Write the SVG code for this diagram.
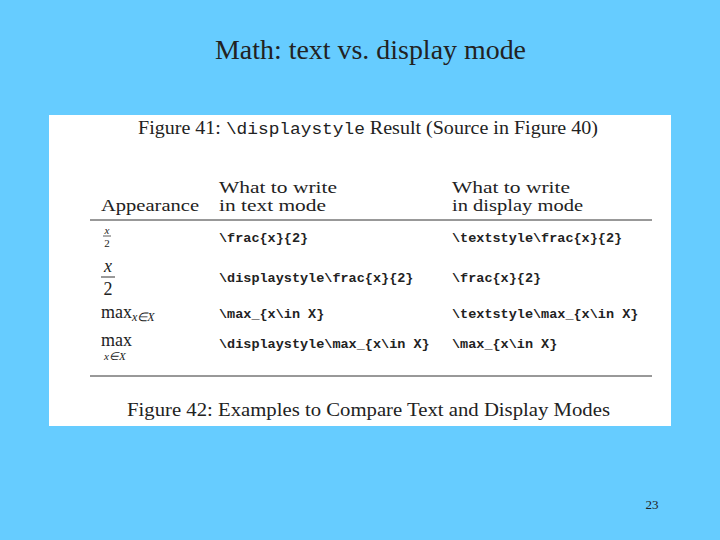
<svg xmlns="http://www.w3.org/2000/svg" width="720" height="540" viewBox="0 0 720 540">
<style>
.s{font-family:"Liberation Serif",serif;fill:#222}
.m{font-family:"Liberation Mono",monospace;font-size:13.5px;font-weight:bold;fill:#222}
.h{font-size:18px}
.k{font-size:16.5px}
</style>
<rect width="720" height="540" fill="#66ccff"/>
<text x="215" y="59" class="s" font-size="27" fill="#000" textLength="311" lengthAdjust="spacingAndGlyphs">Math: text vs. display mode</text>
<rect x="49" y="115" width="622" height="311" fill="#fff"/>
<text x="138" y="134" class="s h" textLength="460" lengthAdjust="spacingAndGlyphs">Figure 41: <tspan font-family="Liberation Mono,monospace" font-size="16">\displaystyle</tspan> Result (Source in Figure 40)</text>
<text x="219" y="193" class="s k" textLength="118" lengthAdjust="spacingAndGlyphs">What to write</text>
<text x="219" y="211" class="s k" textLength="107" lengthAdjust="spacingAndGlyphs">in text mode</text>
<text x="101" y="211" class="s k" textLength="98" lengthAdjust="spacingAndGlyphs">Appearance</text>
<text x="452" y="193" class="s k" textLength="118" lengthAdjust="spacingAndGlyphs">What to write</text>
<text x="452" y="211" class="s k" textLength="131" lengthAdjust="spacingAndGlyphs">in display mode</text>
<line x1="90" y1="220" x2="652" y2="220" stroke="#333" stroke-width="1"/>
<text x="107" y="234" class="s" font-size="11" font-style="italic" text-anchor="middle">x</text>
<line x1="103" y1="236" x2="111" y2="236" stroke="#333" stroke-width="0.8"/>
<text x="107" y="247" class="s" font-size="11" text-anchor="middle">2</text>
<text x="219" y="242" class="m">\frac{x}{2}</text>
<text x="452" y="242" class="m">\textstyle\frac{x}{2}</text>
<text x="108" y="272" class="s h" font-style="italic" text-anchor="middle">x</text>
<line x1="101" y1="277" x2="115" y2="277" stroke="#333" stroke-width="1"/>
<text x="108" y="295" class="s h" text-anchor="middle">2</text>
<text x="219" y="282" class="m">\displaystyle\frac{x}{2}</text>
<text x="452" y="282" class="m">\frac{x}{2}</text>
<text x="101" y="318" class="s h">max<tspan font-size="12" font-style="italic" dy="3">x∈X</tspan></text>
<text x="219" y="318" class="m">\max_{x\in X}</text>
<text x="452" y="318" class="m">\textstyle\max_{x\in X}</text>
<text x="101" y="346" class="s h">max</text>
<text x="104" y="360" class="s" font-size="11" font-style="italic">x∈X</text>
<text x="219" y="348" class="m">\displaystyle\max_{x\in X}</text>
<text x="452" y="348" class="m">\max_{x\in X}</text>
<line x1="90" y1="376" x2="652" y2="376" stroke="#333" stroke-width="1"/>
<text x="127" y="416" class="s h" textLength="483" lengthAdjust="spacingAndGlyphs">Figure 42: Examples to Compare Text and Display Modes</text>
<text x="652" y="509" text-anchor="middle" class="s" font-size="13" fill="#000">23</text>
</svg>
